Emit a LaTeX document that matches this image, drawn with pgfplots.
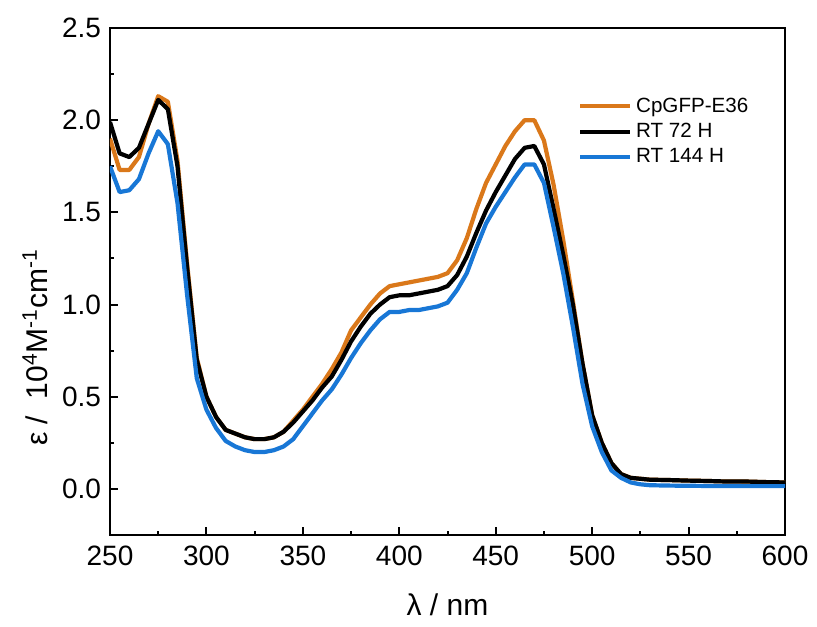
\documentclass[border=0pt]{standalone}
\usepackage{pgfplots}
\pgfplotsset{compat=1.18}
\usepackage{fontspec}
\setmainfont{Liberation Sans}
\definecolor{corange}{RGB}{218,120,26}
\definecolor{cblue}{RGB}{24,119,214}
\begin{document}
\begin{tikzpicture}
\begin{axis}[
  scale only axis,
  width=337.5pt, height=253.5pt,
  xmin=250, xmax=600, ymin=-0.25, ymax=2.5,
  xtick={250,300,...,600},
  ytick={0,0.5,...,2.5},
  minor x tick num=1, minor y tick num=1,
  tick align=inside,
  xtick pos=bottom, ytick pos=left,
  major tick length=4pt, minor tick length=2pt,
  axis line style={line width=1.2pt},
  every tick/.style={black, line width=1pt},
  /pgf/number format/assume math mode=true,
  ticklabel style={font=\fontsize{14}{16}\selectfont},
  yticklabel style={/pgf/number format/fixed, /pgf/number format/fixed zerofill, /pgf/number format/precision=1, xshift=-1pt},
  xticklabel style={yshift=-2pt},
  xlabel={λ / nm},
  ylabel={ε /\ \ 10\textsuperscript{4}M\textsuperscript{-1}cm\textsuperscript{-1}},
  xlabel style={font=\fontsize{15}{17}\selectfont, at={(axis description cs:0.5,-0.138)}, anchor=center},
  ylabel style={font=\fontsize{15}{17}\selectfont, at={(axis description cs:-0.111,0.37)}, anchor=center},
  legend style={draw=none, fill=none, at={(rel axis cs:0.69,0.875)}, anchor=north west, font=\fontsize{10.3}{12}\selectfont, row sep=0pt, inner sep=1pt},
  legend cell align=left,
  legend image code/.code={\draw[#1, line width=2pt] (0pt,0pt) -- (25pt,0pt);},
  every axis plot/.append style={line width=2.1pt, line join=round},
]
\addplot[corange] coordinates {
(250,1.90)(255,1.73)(260,1.73)(265,1.80)(270,1.98)(275,2.13)(280,2.10)(285,1.78)(290,1.22)(295,0.71)
(300,0.50)(305,0.39)(310,0.32)(315,0.30)(320,0.28)(325,0.27)(330,0.27)(335,0.28)(340,0.31)(345,0.37)
(350,0.43)(355,0.50)(360,0.57)(365,0.65)(370,0.74)(375,0.86)(380,0.93)(385,1.00)(390,1.06)(395,1.10)
(400,1.11)(405,1.12)(410,1.13)(415,1.14)(420,1.15)(425,1.17)(430,1.24)(435,1.36)(440,1.52)(445,1.66)
(450,1.76)(455,1.86)(460,1.94)(465,2.00)(470,2.00)(475,1.89)(480,1.65)(485,1.35)(490,1.02)(495,0.68)
(500,0.40)(505,0.25)(510,0.14)(515,0.08)(520,0.06)(525,0.055)(530,0.05)(540,0.048)(550,0.045)(560,0.043)
(570,0.04)(580,0.04)(590,0.037)(600,0.035)
};
\addlegendentry{CpGFP-E36}
\addplot[black] coordinates {
(250,1.99)(255,1.82)(260,1.80)(265,1.85)(270,1.98)(275,2.11)(280,2.06)(285,1.75)(290,1.20)(295,0.70)
(300,0.50)(305,0.39)(310,0.32)(315,0.30)(320,0.28)(325,0.27)(330,0.27)(335,0.28)(340,0.31)(345,0.36)
(350,0.42)(355,0.48)(360,0.55)(365,0.61)(370,0.70)(375,0.80)(380,0.88)(385,0.95)(390,1.00)(395,1.04)
(400,1.05)(405,1.05)(410,1.06)(415,1.07)(420,1.08)(425,1.10)(430,1.16)(435,1.26)(440,1.39)(445,1.51)
(450,1.61)(455,1.70)(460,1.79)(465,1.85)(470,1.86)(475,1.76)(480,1.52)(485,1.27)(490,1.00)(495,0.68)
(500,0.40)(505,0.25)(510,0.14)(515,0.08)(520,0.06)(525,0.055)(530,0.05)(540,0.048)(550,0.045)(560,0.043)
(570,0.04)(580,0.04)(590,0.037)(600,0.035)
};
\addlegendentry{RT 72 H}
\addplot[cblue] coordinates {
(250,1.75)(255,1.61)(260,1.62)(265,1.68)(270,1.82)(275,1.94)(280,1.87)(285,1.55)(290,1.05)(295,0.60)
(300,0.43)(305,0.33)(310,0.26)(315,0.23)(320,0.21)(325,0.20)(330,0.20)(335,0.21)(340,0.23)(345,0.27)
(350,0.34)(355,0.41)(360,0.48)(365,0.54)(370,0.62)(375,0.71)(380,0.79)(385,0.86)(390,0.92)(395,0.96)
(400,0.96)(405,0.97)(410,0.97)(415,0.98)(420,0.99)(425,1.01)(430,1.08)(435,1.17)(440,1.31)(445,1.44)
(450,1.53)(455,1.61)(460,1.69)(465,1.76)(470,1.76)(475,1.66)(480,1.42)(485,1.17)(490,0.88)(495,0.57)
(500,0.34)(505,0.20)(510,0.10)(515,0.06)(520,0.035)(525,0.025)(530,0.02)(540,0.018)(550,0.017)(560,0.016)
(570,0.016)(580,0.015)(590,0.015)(600,0.015)
};
\addlegendentry{RT 144 H}
\end{axis}
\path ([shift={(-55pt,-45.5pt)}]current axis.south west) rectangle ([shift={(16pt,14pt)}]current axis.north east);
\end{tikzpicture}
\end{document}
